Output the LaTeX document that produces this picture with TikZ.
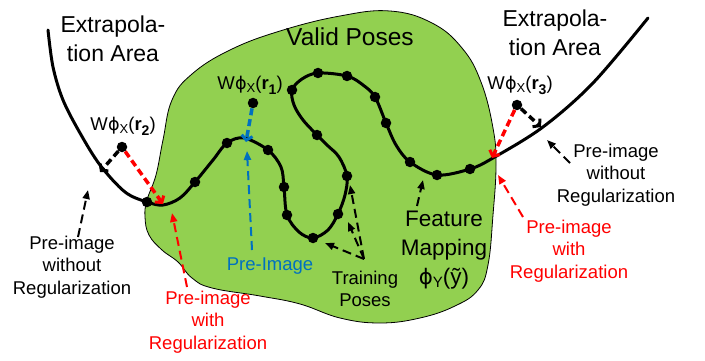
\documentclass[tikz,border=0pt]{standalone}
\usepackage{fontspec}
\setmainfont{Liberation Sans}
\newfontfamily\phifont{DejaVu Sans}
\usetikzlibrary{arrows.meta}
\definecolor{blobgreen}{RGB}{146,208,80}
\definecolor{preblue}{RGB}{0,112,192}
\newcommand{\myphi}{{\phifont\scalebox{0.95}{ϕ}}}
\newcommand{\wphilabel}[1]{W\kern0.3pt\myphi\raisebox{-0.3ex}{\fontsize{13}{13}\selectfont X}(\textbf{r}\raisebox{-0.5ex}{\fontsize{14}{14}\selectfont\bfseries #1})}
\begin{document}
\begin{tikzpicture}[x=1pt,y=-1pt,
  bigtxt/.style={font=\fontsize{22.5}{29}\selectfont, align=center, inner sep=0pt},
  smalltxt/.style={font=\fontsize{18.5}{22.5}\selectfont, align=center, inner sep=0pt},
  manifold/.style={line width=3pt, line join=round, line cap=round},
  pose/.style={circle, fill=black, inner sep=0pt, minimum size=10.5pt},
  rarrow/.style={line width=3.5pt, dash pattern=on 7pt off 4pt, -{Straight Barb[length=4.5pt,width=11pt,line width=3pt]}},
  annarrow/.style={line width=2pt, dash pattern=on 9pt off 5pt, -{Triangle[length=9pt,width=7pt]}},
]
\useasboundingbox (0,0) rectangle (705,361);
% valid region
\path[fill=blobgreen, draw=black, line width=0.8pt] plot[smooth cycle, tension=0.7] coordinates {
 (172,100) (163,140) (156,175) (147,200) (145,217) (149,235) (162,250) (178,262) (192,278) (212,288)
 (260,296) (300,304) (340,318) (380,323) (420,318) (455,306) (478,290) (488,265) (493,215) (496,165)
 (493,128) (481,82) (462,48) (432,23) (390,11) (340,16) (280,31) (230,50) (192,74)};
% manifold curve
\draw[manifold] plot[smooth, tension=0.55] coordinates {
 (48,30) (53,67) (63,100) (80,133) (100,165) (125,192) (147,202) (163,205) (180,198) (195,182)
 (213,160) (227,143) (244,138) (268,150) (281,167) (284,187) (287,215) (299,232) (313,238) (328,230)
 (338,214) (345,195) (347,176) (339,157) (327,145) (317,135) (303,120) (294,105) (292,90) (302,79) (318,73)
 (347,76) (363,85) (375,97) (386,123) (396,145) (410,162) (437,175) (470,169) (493,158) (543,127) (593,83) (648,18)};
% training poses
\foreach \n/\p in {1/{147,202},2/{195,182},3/{227,143},4/{268,150},5/{284,187},6/{287,215},7/{313,238},8/{338,214},9/{347,176},10/{317,135},11/{292,90},12/{318,73},13/{347,76},14/{375,97},15/{386,123},16/{410,162},17/{437,175},18/{470,169}}
  \node[pose] (p\n) at (\p) {};
% projected points
\node[pose] (r1) at (253,103) {};
\node[pose] (r2) at (122,147) {};
\node[pose] (r3) at (517,105) {};
% arrow end points
\coordinate (r1tip) at (246,142);
\coordinate (r2black) at (100,172);
\coordinate (r2red) at (163,204);
\coordinate (r3black) at (541,127);
\coordinate (r3red) at (492,158);
\coordinate (blueend) at (247,151);
\coordinate (bluestart) at (252,250);
% r arrows
\draw[rarrow, preblue] (r1) -- (r1tip);
\draw[rarrow, black] (r2) -- (r2black);
\draw[rarrow, red] (r2) -- (r2red);
\draw[rarrow, black] (r3) -- (r3black);
\draw[rarrow, red] (r3) -- (r3red);
% labels
\node[bigtxt, font=\fontsize{23}{29}\selectfont] (extl) at (113,39) {Extrapola-\\tion Area};
\node[bigtxt, font=\fontsize{23}{29}\selectfont] (extr) at (555,33) {Extrapola-\\tion Area};
\node[bigtxt, font=\fontsize{24.5}{29}\selectfont] (valid) at (350,37) {Valid Poses};
\node[smalltxt] (lr1) at (250,85) {\wphilabel{1}};
\node[smalltxt] (lr2) at (123,126) {\wphilabel{2}};
\node[smalltxt] (lr3) at (520,85) {\wphilabel{3}};
\node[smalltxt, text=preblue] (pre) at (270,266) {Pre-Image};
\node[smalltxt] (lwo) at (72,267) {Pre-image\\without\\Regularization};
\node[smalltxt, text=red] (lw) at (208,322) {Pre-image\\with\\Regularization};
\node[smalltxt] (train) at (365,289) {Training\\Poses};
\node[bigtxt] (feat) at (444,250) {Feature\\Mapping\\\myphi\raisebox{-0.25ex}{\fontsize{15}{15}\selectfont Y}(ỹ)};
\node[smalltxt] (rwo) at (616,175) {Pre-image\\without\\Regularization};
\node[smalltxt, text=red] (rw) at (569,251) {Pre-image\\with\\Regularization};
% annotation arrows
\coordinate (lwoS) at (78,237);
\coordinate (lwoE) at (88,190);
\coordinate (lwS) at (187,287);
\coordinate (lwE) at (172,213);
\coordinate (rwoS) at (570,163);
\coordinate (rwoE) at (547,140);
\coordinate (rwS) at (523,217);
\coordinate (rwE) at (498,175);
\coordinate (trS) at (364,259);
\coordinate (tr1) at (325,243);
\coordinate (tr2) at (348,222);
\coordinate (tr3) at (350,185);
\coordinate (feS) at (417,206);
\coordinate (feE) at (423,180);
\draw[annarrow, preblue] (bluestart) -- (blueend);
\draw[annarrow] (lwoS) -- (lwoE);
\draw[annarrow, red] (lwS) -- (lwE);
\draw[annarrow] (rwoS) -- (rwoE);
\draw[annarrow, red] (rwS) -- (rwE);
\draw[annarrow] (trS) -- (tr1);
\draw[annarrow] (trS) -- (tr2);
\draw[annarrow] (trS) -- (tr3);
\draw[annarrow] (feS) -- (feE);
\end{tikzpicture}
\end{document}
